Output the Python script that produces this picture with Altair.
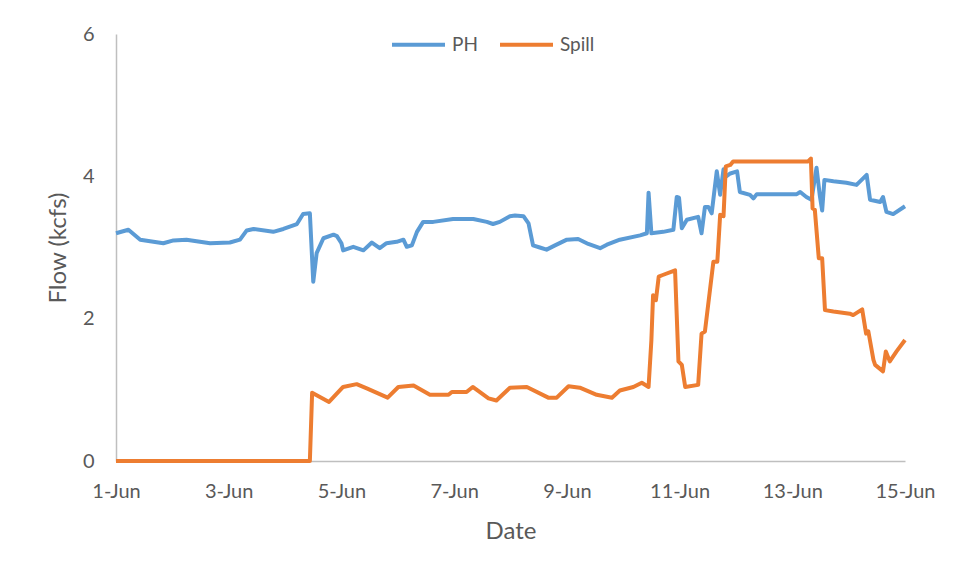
import altair as alt
import pandas as pd

# Days since 1-Jun (0 = 1-Jun, 14 = 15-Jun) and flow in kcfs
ph_day = [0.00, 0.22, 0.43, 0.84, 1.02, 1.25, 1.67, 2.02, 2.20, 2.32, 2.44, 2.79, 2.97, 3.21,
          3.32, 3.44, 3.50, 3.56, 3.68, 3.86, 3.92, 4.00, 4.03, 4.21, 4.39, 4.54, 4.68, 4.80,
          4.98, 5.10, 5.16, 5.25, 5.34, 5.45, 5.63, 5.98, 6.34, 6.58, 6.69, 6.81, 6.99, 7.08,
          7.23, 7.32, 7.40, 7.52, 7.64, 7.79, 8.00, 8.20, 8.38, 8.59, 8.71, 8.94, 9.30, 9.42,
          9.45, 9.50, 9.71, 9.89, 9.95, 9.99, 10.04, 10.13, 10.33, 10.39, 10.45, 10.51, 10.57,
          10.66, 10.72, 10.78, 10.81, 10.90, 11.02, 11.07, 11.25, 11.31, 11.37, 11.60, 12.08,
          12.14, 12.25, 12.34, 12.43, 12.49, 12.53, 12.57, 12.73, 12.96, 13.14, 13.32, 13.38,
          13.56, 13.61, 13.67, 13.79, 14.00]
ph_flow = [3.20, 3.25, 3.11, 3.06, 3.10, 3.11, 3.06, 3.07, 3.11, 3.24, 3.26, 3.22, 3.26, 3.33,
           3.47, 3.48, 2.52, 2.92, 3.13, 3.18, 3.16, 3.06, 2.96, 3.01, 2.96, 3.07, 2.99, 3.06,
           3.08, 3.11, 3.01, 3.03, 3.22, 3.36, 3.36, 3.40, 3.40, 3.36, 3.33, 3.36, 3.44, 3.45,
           3.44, 3.34, 3.03, 3.00, 2.97, 3.03, 3.11, 3.12, 3.05, 2.99, 3.04, 3.11, 3.17, 3.20,
           3.77, 3.20, 3.22, 3.25, 3.71, 3.70, 3.27, 3.39, 3.43, 3.20, 3.57, 3.57, 3.48,
           4.07, 3.74, 4.10, 3.99, 4.04, 4.07, 3.78, 3.74, 3.69, 3.75, 3.75, 3.75,
           3.78, 3.71, 3.67, 4.12, 3.72, 3.52, 3.95, 3.93, 3.91, 3.88, 4.02, 3.67,
           3.64, 3.71, 3.50, 3.47, 3.58]

spill_day = [0.00, 3.44, 3.48, 3.78, 4.03, 4.27, 4.45, 4.82, 5.01, 5.28, 5.57, 5.90, 5.96, 6.22,
             6.33, 6.61, 6.75, 6.99, 7.29, 7.67, 7.82, 8.03, 8.23, 8.53, 8.80, 8.94, 9.18, 9.33,
             9.45, 9.50, 9.53, 9.58, 9.63, 9.69, 9.92, 9.98, 10.04, 10.10, 10.33, 10.39, 10.45,
             10.60, 10.67, 10.72, 10.78, 10.82, 10.90, 10.95, 12.28, 12.33, 12.36, 12.40, 12.47,
             12.53, 12.58, 12.73, 13.02, 13.08, 13.24, 13.31, 13.35, 13.44, 13.47, 13.61, 13.66,
             13.73, 13.85, 14.00]
spill_flow = [0.00, 0.00, 0.96, 0.83, 1.04, 1.08, 1.02, 0.89, 1.04, 1.06, 0.93, 0.93, 0.97, 0.97,
              1.04, 0.88, 0.85, 1.03, 1.04, 0.89, 0.89, 1.05, 1.03, 0.93, 0.89, 0.99, 1.04, 1.10,
              1.04, 1.70, 2.33, 2.26, 2.59, 2.61, 2.68, 1.40, 1.35, 1.04, 1.07, 1.79, 1.82,
              2.80, 2.80, 3.46, 3.44, 4.14, 4.16, 4.21, 4.21, 4.25, 3.55, 3.53, 2.85,
              2.85, 2.12, 2.10, 2.07, 2.05, 2.13, 1.79, 1.82, 1.42, 1.35, 1.26, 1.54,
              1.40, 1.54, 1.70]

series_names = ["PH", "Spill"]
series_colors = ["#5B9BD5", "#ED7D31"]
tick_days = [0, 2, 4, 6, 8, 10, 12, 14]
y_ticks = [0, 2, 4, 6]

df = pd.concat([
    pd.DataFrame({"day": ph_day, "flow": ph_flow, "series": "PH", "order": range(len(ph_day))}),
    pd.DataFrame({"day": spill_day, "flow": spill_flow, "series": "Spill", "order": range(len(spill_day))}),
])

FONT = "Lato"
GREY = "#595959"

chart = alt.Chart(df).mark_line(strokeWidth=4, strokeJoin="round").encode(
    x=alt.X("day:Q",
            scale=alt.Scale(domain=[0, 14], nice=False, zero=False),
            axis=alt.Axis(values=tick_days, labelExpr="(datum.value + 1) + '-Jun'",
                          title="Date", labelFlush=False, labelOverlap=False,
                          labelPadding=20, titlePadding=18)),
    y=alt.Y("flow:Q",
            scale=alt.Scale(domain=[0, 6], nice=False),
            axis=alt.Axis(values=y_ticks, title="Flow (kcfs)", labelPadding=22, titlePadding=12)),
    color=alt.Color("series:N",
                    scale=alt.Scale(domain=series_names, range=series_colors),
                    legend=alt.Legend(title=None, orient="none", legendX=274, legendY=-18,
                                      direction="horizontal", symbolType="stroke",
                                      symbolSize=2809, symbolStrokeWidth=4,
                                      labelFontSize=19, labelColor=GREY, labelFont=FONT,
                                      labelOffset=5, columnPadding=14)),
    order="order:Q",
).properties(
    width=789,
    height=427,
    autosize=alt.AutoSizeParams(type="none"),
    padding={"left": 108, "top": 26, "right": 41, "bottom": 99},
).configure_view(
    stroke=None
).configure_axis(
    domainColor="#BFBFBF",
    domainWidth=1.5,
    ticks=False,
    grid=False,
    labelColor=GREY,
    labelFont=FONT,
    labelFontSize=20,
    titleColor=GREY,
    titleFont=FONT,
    titleFontSize=24,
    titleFontWeight="normal",
)

chart.save("out.html", embed_options={"renderer": "svg", "actions": False})
